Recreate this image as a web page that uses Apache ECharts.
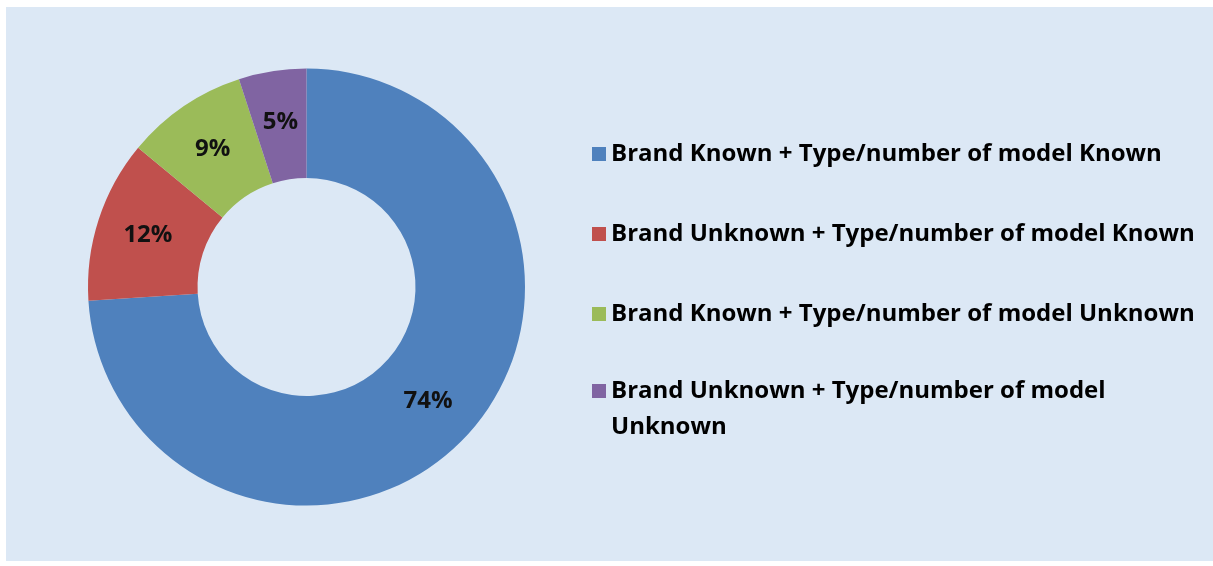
<!DOCTYPE html>
<html>
<head>
<meta charset="utf-8">
<script src="https://cdn.jsdelivr.net/npm/echarts@6/dist/echarts.min.js"></script>
<style>
  body { margin: 0; background: #ffffff; }
  #bg {
    position: absolute; left: 6px; top: 7px; width: 1207px; height: 554px;
    background: #dce8f5;
  }
  #chart { position: absolute; left: 0; top: 0; width: 1213px; height: 566px; }
</style>
</head>
<body>
<div id="bg"></div>
<div id="chart"></div>
<script>
  // share of items by what was known about them
  const categories = [
    'Brand Known + Type/number of model Known',
    'Brand Unknown + Type/number of model Known',
    'Brand Known + Type/number of model Unknown',
    'Brand Unknown + Type/number of model Unknown'
  ]
  const shares = [74, 12, 9, 5]
  const colors = ['#4f81bd', '#c0504d', '#9bbb59', '#8064a2']

  const font = 'Open Sans'
  const lineH = 36

  // last legend entry wraps on its last word, first line next to the icon
  function wrapLast(name) {
    let i = name.lastIndexOf(' ')
    return '\n' + name.slice(0, i) + '\n' + name.slice(i + 1)
  }

  let mychart = echarts.init(document.getElementById('chart'))
  mychart.setOption({
    backgroundColor: 'transparent',
    color: colors,
    legend: [
      {
        orient: 'vertical',
        left: 592,
        top: 136,
        padding: 0,
        itemWidth: 14,
        itemHeight: 14,
        itemGap: 44,
        icon: 'rect',
        selectedMode: false,
        data: categories.slice(0, 3),
        textStyle: {fontFamily: font, fontWeight: 'bold', fontSize: 24, color: '#000', lineHeight: lineH}
      },
      {
        orient: 'vertical',
        left: 592,
        top: 337,
        padding: 0,
        itemWidth: 14,
        itemHeight: 14,
        icon: 'rect',
        selectedMode: false,
        data: categories.slice(3),
        formatter: wrapLast,
        textStyle: {fontFamily: font, fontWeight: 'bold', fontSize: 24, color: '#000', lineHeight: lineH}
      }
    ],
    series: [
      {
        type: 'pie',
        center: [306.5, 287],
        radius: [109, 218.5],
        startAngle: 90,
        clockwise: true,
        avoidLabelOverlap: false,
        label: {
          show: true,
          position: 'inside',
          formatter: '{c}%',
          fontFamily: font,
          fontWeight: 'bold',
          fontSize: 24,
          color: '#111'
        },
        labelLine: {show: false},
        itemStyle: {borderWidth: 0},
        emphasis: {disabled: true},
        data: categories.map((name, i) => ({name: name, value: shares[i]}))
      }
    ]
  })
</script>
</body>
</html>
